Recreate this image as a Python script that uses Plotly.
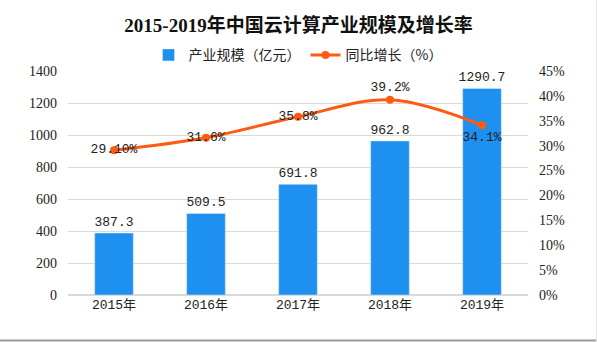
import plotly.graph_objects as go

years = ["2015年", "2016年", "2017年", "2018年", "2019年"]
scale = [387.3, 509.5, 691.8, 962.8, 1290.7]
growth = [29.1, 31.6, 35.8, 39.2, 34.1]
growth_labels = ["29.10%", "31.6%", "35.8%", "39.2%", "34.1%"]
growth_pos = ["middle center", "middle center", "middle center", "top center", "bottom center"]

mono = "Liberation Mono, Noto Sans CJK SC"
serif = "Liberation Serif, Noto Sans CJK SC"

fig = go.Figure()
fig.add_trace(go.Bar(
    x=years, y=scale, name="产业规模（亿元）",
    marker_color="#1E90F0",
    text=[f"{v:.1f}" for v in scale], textposition="outside",
    textfont=dict(family=mono, size=13, color="#222222"),
    constraintext="none",
    cliponaxis=False,
))
fig.add_trace(go.Scatter(
    x=years, y=growth, name="同比增长（%）", yaxis="y2",
    mode="lines+markers+text",
    line=dict(color="#FF5A12", width=3, shape="spline"),
    marker=dict(color="#FF5A12", size=8),
    text=growth_labels, textposition=growth_pos,
    textfont=dict(family=mono, size=13, color="#222222"),
    cliponaxis=False,
))

fig.update_layout(
    width=597, height=342,
    margin=dict(l=68, r=69, t=71, b=47),
    paper_bgcolor="white", plot_bgcolor="white",
    title=dict(text="<b>2015-2019年中国云计算产业规模及增长率</b>",
               x=0.5, xanchor="center", y=0.925, yanchor="middle",
               font=dict(family="Liberation Serif, Noto Sans CJK SC", size=19, color="#111111")),
    legend=dict(orientation="h", x=0.5, xanchor="center", y=1.07, yanchor="middle",
                font=dict(family="Noto Sans CJK SC", size=14, color="#222222"),
                itemwidth=30, traceorder="normal"),
    bargap=0.58,
    showlegend=True,
    xaxis=dict(showgrid=False, showline=False, ticks="",
               tickfont=dict(family=mono, size=13, color="#222222")),
    yaxis=dict(range=[0, 1400], dtick=200, showgrid=True, gridcolor="#D9D9D9",
               zeroline=True, zerolinecolor="#D9D9D9", ticks="",
               tickfont=dict(family=serif, size=14, color="#222222"), ticklabelstandoff=10),
    yaxis2=dict(range=[0, 45], dtick=5, overlaying="y", side="right", showgrid=False,
                zeroline=False, ticksuffix="%", ticks="",
                tickfont=dict(family=serif, size=14, color="#222222"), ticklabelstandoff=10),
    shapes=[
        dict(type="line", xref="paper", yref="paper", x0=-68/460, x1=1+69/460,
             y0=-45.5/224, y1=-45.5/224, line=dict(color="#999999", width=2)),
        dict(type="line", xref="paper", yref="paper", x0=1+68.5/460, x1=1+68.5/460,
             y0=-47/224, y1=1+71/224, line=dict(color="#E6E6E6", width=1)),
    ],
)

fig.write_html("out.html")
